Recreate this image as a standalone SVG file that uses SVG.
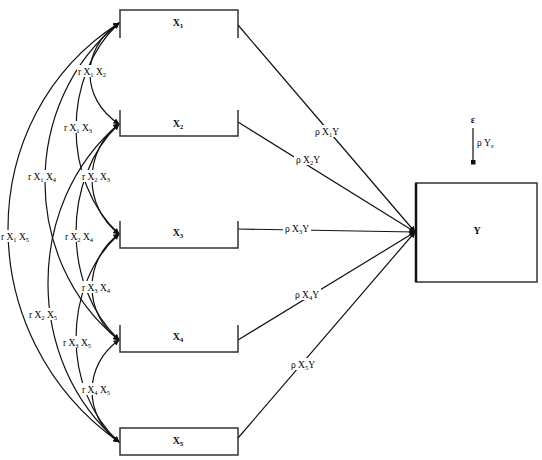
<svg xmlns="http://www.w3.org/2000/svg" width="542" height="460" viewBox="0 0 542 460">
<style>
.box{fill:none;stroke:#333;stroke-width:1.5}
.con{fill:none;stroke:#111;stroke-width:1.2}
.bg{fill:#fff;stroke:none}
.lbl{font-family:"Liberation Serif",serif;font-size:9.5px;fill:#000}
.nm{font-family:"Liberation Serif",serif;font-size:10px;font-weight:bold;fill:#111;text-anchor:middle}
</style>
<defs>
<marker id="ah" viewBox="0 0 10 10" refX="9" refY="5" markerWidth="7" markerHeight="6" markerUnits="userSpaceOnUse" orient="auto-start-reverse">
<path d="M0,0 L10,5 L0,10 z" fill="#111"/>
</marker>
<marker id="dot" viewBox="0 0 10 10" refX="5" refY="5" markerWidth="5" markerHeight="5" markerUnits="userSpaceOnUse">
<rect x="0" y="0" width="10" height="10" fill="#111"/>
</marker>
</defs>

<g id="connectors">
<g class="con" marker-start="url(#ah)" marker-end="url(#ah)">
<path d="M119,23 C80.3,48.3 80.3,98.8 119,124"/>
<path d="M119,124 C83,151.5 83,206.5 119,234"/>
<path d="M119,234 C83,260.5 83,313.5 119,340"/>
<path d="M119,340 C83,365.5 83,416.5 119,442"/>
<path d="M119,23 C61.7,75.8 61.7,181.3 119,234"/>
<path d="M119,124 C61.7,178 61.7,286 119,340"/>
<path d="M119,234 C61.7,286 61.7,390 119,442"/>
<path d="M119,23 C20.3,102.3 20.3,260.8 119,340"/>
<path d="M119,124 C24.3,203.5 24.3,362.5 119,442"/>
<path d="M119,23 C-29,117.8 -29,337.3 119,442"/>
</g>
<g class="con" marker-end="url(#ah)">
<line x1="238" y1="25" x2="415" y2="232"/>
<line x1="238" y1="122" x2="415" y2="232"/>
<line x1="238" y1="229" x2="415" y2="232"/>
<line x1="238" y1="340" x2="415" y2="232"/>
<line x1="238" y1="438" x2="415" y2="232"/>
</g>
<line class="con" x1="473" y1="128" x2="473" y2="162" marker-end="url(#dot)"/>

<g class="bg">
<rect x="77" y="65" width="30" height="12"/>
<rect x="63" y="121" width="30" height="12"/>
<rect x="27" y="170" width="30" height="12"/>
<rect x="81" y="170" width="30" height="12"/>
<rect x="0" y="230" width="30" height="12"/>
<rect x="64" y="230" width="30" height="12"/>
<rect x="81" y="281" width="30" height="12"/>
<rect x="28" y="308" width="30" height="12"/>
<rect x="62" y="336" width="30" height="12"/>
<rect x="81" y="383" width="30" height="12"/>
<rect x="313" y="125" width="28" height="12"/>
<rect x="294" y="153" width="28" height="12"/>
<rect x="283" y="222" width="28" height="12"/>
<rect x="293" y="288" width="28" height="12"/>
<rect x="289" y="358" width="28" height="12"/>
<rect x="475" y="136" width="24" height="12"/>
</g>

<g class="lbl" text-anchor="middle">
<text x="92" y="75">r X<tspan dy="2" font-size="6.5">1</tspan><tspan dy="-2"> X</tspan><tspan dy="2" font-size="6.5">2</tspan></text>
<text x="78" y="131">r X<tspan dy="2" font-size="6.5">1</tspan><tspan dy="-2"> X</tspan><tspan dy="2" font-size="6.5">3</tspan></text>
<text x="42" y="180">r X<tspan dy="2" font-size="6.5">1</tspan><tspan dy="-2"> X</tspan><tspan dy="2" font-size="6.5">4</tspan></text>
<text x="96" y="180">r X<tspan dy="2" font-size="6.5">2</tspan><tspan dy="-2"> X</tspan><tspan dy="2" font-size="6.5">3</tspan></text>
<text x="15" y="240">r X<tspan dy="2" font-size="6.5">1</tspan><tspan dy="-2"> X</tspan><tspan dy="2" font-size="6.5">5</tspan></text>
<text x="79" y="240">r X<tspan dy="2" font-size="6.5">2</tspan><tspan dy="-2"> X</tspan><tspan dy="2" font-size="6.5">4</tspan></text>
<text x="96" y="291">r X<tspan dy="2" font-size="6.5">3</tspan><tspan dy="-2"> X</tspan><tspan dy="2" font-size="6.5">4</tspan></text>
<text x="43" y="318">r X<tspan dy="2" font-size="6.5">2</tspan><tspan dy="-2"> X</tspan><tspan dy="2" font-size="6.5">5</tspan></text>
<text x="77" y="346">r X<tspan dy="2" font-size="6.5">3</tspan><tspan dy="-2"> X</tspan><tspan dy="2" font-size="6.5">5</tspan></text>
<text x="96" y="393">r X<tspan dy="2" font-size="6.5">4</tspan><tspan dy="-2"> X</tspan><tspan dy="2" font-size="6.5">5</tspan></text>

<text x="327" y="135">ρ X<tspan dy="2" font-size="6.5">1</tspan><tspan dy="-2">Y</tspan></text>
<text x="308" y="163">ρ X<tspan dy="2" font-size="6.5">2</tspan><tspan dy="-2">Y</tspan></text>
<text x="297" y="232">ρ X<tspan dy="2" font-size="6.5">3</tspan><tspan dy="-2">Y</tspan></text>
<text x="307" y="298">ρ X<tspan dy="2" font-size="6.5">4</tspan><tspan dy="-2">Y</tspan></text>
<text x="303" y="368">ρ X<tspan dy="2" font-size="6.5">5</tspan><tspan dy="-2">Y</tspan></text>
</g>
<text class="lbl" x="477" y="146">ρ Y<tspan dy="2" font-size="6.5">ε</tspan></text>
</g>

<g id="X1"><path class="box" d="M120,38 V10 H238 V38"/><text class="nm" x="178" y="26">X<tspan dy="2" font-size="7">1</tspan></text></g>
<g id="X2"><path class="box" d="M120,110 V136 H238 V110"/><text class="nm" x="178" y="127">X<tspan dy="2" font-size="7">2</tspan></text></g>
<g id="X3"><path class="box" d="M120,221 V248 H238 V221"/><text class="nm" x="178" y="236">X<tspan dy="2" font-size="7">3</tspan></text></g>
<g id="X4"><path class="box" d="M120,325 V352 H238 V325"/><text class="nm" x="178" y="340">X<tspan dy="2" font-size="7">4</tspan></text></g>
<g id="X5"><rect class="box" x="120" y="428" width="118" height="27"/><text class="nm" x="178" y="444">X<tspan dy="2" font-size="7">5</tspan></text></g>
<g id="Y"><rect class="box" x="416" y="183" width="121" height="99"/><line x1="416" y1="183" x2="416" y2="282" stroke="#111" stroke-width="2.5"/><text class="nm" x="477" y="234">Y</text></g>
<g id="epsilon"><text class="nm" x="473" y="123">ε</text></g>
</svg>
